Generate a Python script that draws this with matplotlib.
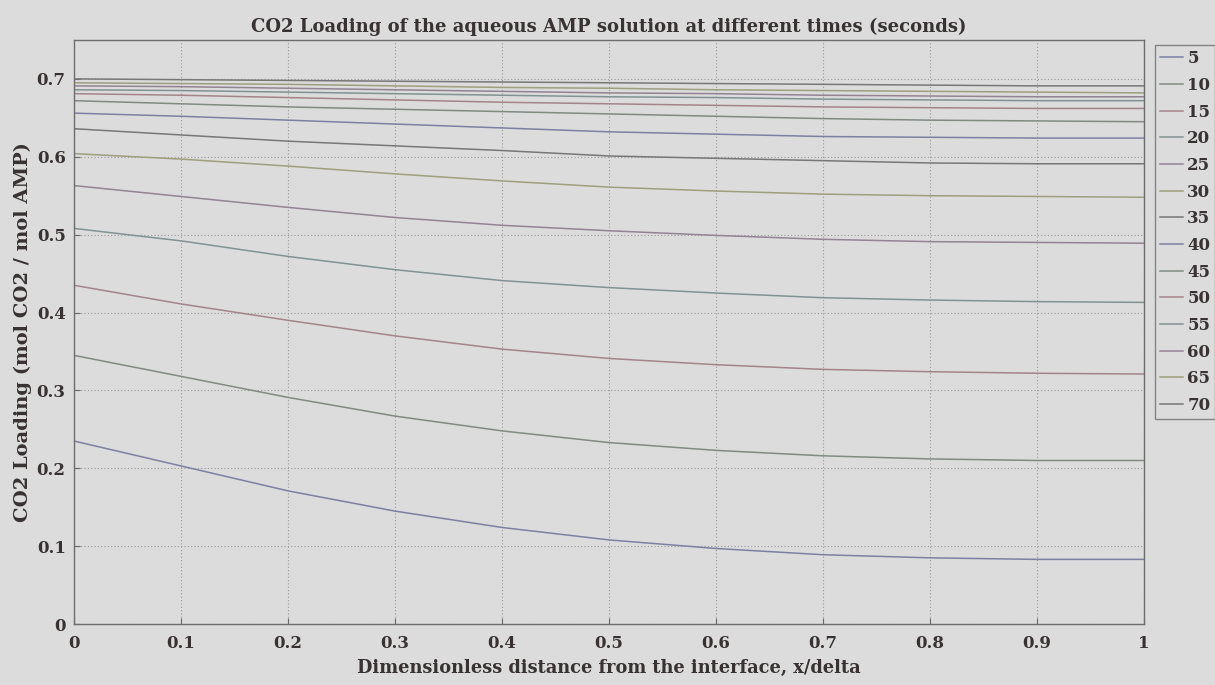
import matplotlib
matplotlib.use("Agg")
import matplotlib.pyplot as plt
import numpy as np

# Dimensionless position across the film
x_pos = [0.0, 0.1, 0.2, 0.3, 0.4, 0.5, 0.6, 0.7, 0.8, 0.9, 1.0]

# Exposure times (s) used as legend labels
times = [5, 10, 15, 20, 25, 30, 35, 40, 45, 50, 55, 60, 65, 70]

# CO2 loading profiles (mol CO2 / mol AMP), one list per exposure time
load_5 = [0.235, 0.203, 0.171, 0.145, 0.124, 0.108, 0.097, 0.089, 0.085, 0.083, 0.083]
load_10 = [0.345, 0.318, 0.291, 0.267, 0.248, 0.233, 0.223, 0.216, 0.212, 0.210, 0.210]
load_15 = [0.435, 0.411, 0.390, 0.370, 0.353, 0.341, 0.333, 0.327, 0.324, 0.322, 0.321]
load_20 = [0.508, 0.492, 0.472, 0.455, 0.441, 0.432, 0.425, 0.419, 0.416, 0.414, 0.413]
load_25 = [0.563, 0.549, 0.535, 0.522, 0.512, 0.505, 0.499, 0.494, 0.491, 0.490, 0.489]
load_30 = [0.604, 0.597, 0.588, 0.578, 0.569, 0.561, 0.556, 0.552, 0.550, 0.549, 0.548]
load_35 = [0.636, 0.628, 0.620, 0.614, 0.608, 0.601, 0.598, 0.595, 0.592, 0.591, 0.591]
load_40 = [0.656, 0.652, 0.647, 0.642, 0.637, 0.632, 0.629, 0.626, 0.625, 0.624, 0.624]
load_45 = [0.672, 0.668, 0.664, 0.661, 0.658, 0.655, 0.652, 0.649, 0.647, 0.646, 0.645]
load_50 = [0.681, 0.679, 0.676, 0.673, 0.670, 0.668, 0.666, 0.664, 0.663, 0.662, 0.662]
load_55 = [0.686, 0.685, 0.683, 0.681, 0.679, 0.677, 0.676, 0.674, 0.673, 0.672, 0.672]
load_60 = [0.691, 0.690, 0.688, 0.686, 0.684, 0.682, 0.681, 0.679, 0.678, 0.677, 0.677]
load_65 = [0.695, 0.694, 0.693, 0.691, 0.689, 0.688, 0.686, 0.685, 0.684, 0.683, 0.682]
load_70 = [0.700, 0.699, 0.698, 0.697, 0.696, 0.695, 0.694, 0.693, 0.692, 0.691, 0.691]

profiles = [load_5, load_10, load_15, load_20, load_25, load_30, load_35,
            load_40, load_45, load_50, load_55, load_60, load_65, load_70]

x_ticks = [0, 0.1, 0.2, 0.3, 0.4, 0.5, 0.6, 0.7, 0.8, 0.9, 1]
x_tick_labels = ["0", "0.1", "0.2", "0.3", "0.4", "0.5", "0.6", "0.7", "0.8", "0.9", "1"]
y_ticks = [0, 0.1, 0.2, 0.3, 0.4, 0.5, 0.6, 0.7]
y_tick_labels = ["0", "0.1", "0.2", "0.3", "0.4", "0.5", "0.6", "0.7"]

# Muted b, g, r, c, m, y, k colour cycle
cycle = ["#7e80a0", "#828a82", "#a2858a", "#829292", "#928492", "#9e9e80", "#777777"]

text_color = "#383232"
bg = "#dcdcdc"
font = "DejaVu Serif"

fig = plt.figure(figsize=(12.15, 6.85), dpi=100, facecolor=bg)
ax = fig.add_axes([0.0609, 0.089, 0.8807, 0.8527], facecolor=bg)

for i, (t, y) in enumerate(zip(times, profiles)):
    ax.plot(x_pos, y, color=cycle[i % len(cycle)], lw=1.1, label=str(t))

ax.set_xlim(0, 1)
ax.set_ylim(0, 0.75)
ax.set_xticks(x_ticks)
ax.set_xticklabels(x_tick_labels)
ax.set_yticks(y_ticks)
ax.set_yticklabels(y_tick_labels)

ax.grid(True, linestyle=(0, (1, 2)), color="#9a9a9a", lw=0.8)
ax.tick_params(direction="in", length=4, color="#6a6a6a", labelcolor=text_color)
ax.tick_params(axis="x", pad=8)
ax.tick_params(axis="y", pad=6)
for lab in ax.get_xticklabels() + ax.get_yticklabels():
    lab.set_fontfamily(font)
    lab.set_fontweight("bold")
    lab.set_fontsize(12)
for sp in ax.spines.values():
    sp.set_color("#6e6e6e")
    sp.set_linewidth(1.0)

ax.set_title("CO2 Loading of the aqueous AMP solution at different times (seconds)",
             fontfamily=font, fontweight="bold", fontsize=13, color=text_color, pad=6)
ax.set_xlabel("Dimensionless distance from the interface, x/delta",
              fontfamily=font, fontweight="bold", fontsize=12.8, color=text_color, labelpad=5)
ax.set_ylabel("CO2 Loading (mol CO2 / mol AMP)",
              fontfamily=font, fontweight="bold", fontsize=14, color=text_color, labelpad=3)

leg = ax.legend(loc="upper left", bbox_to_anchor=(1.01, 0.991), frameon=True,
                prop={"family": font, "weight": "bold", "size": 12},
                handlelength=1.4, handletextpad=0.25, labelspacing=0.58,
                borderpad=0.3, fancybox=False, borderaxespad=0)
leg.get_frame().set_facecolor(bg)
leg.get_frame().set_edgecolor("#6e6e6e")
for txt in leg.get_texts():
    txt.set_color(text_color)

fig.savefig("out.png", dpi=100, facecolor=bg)
